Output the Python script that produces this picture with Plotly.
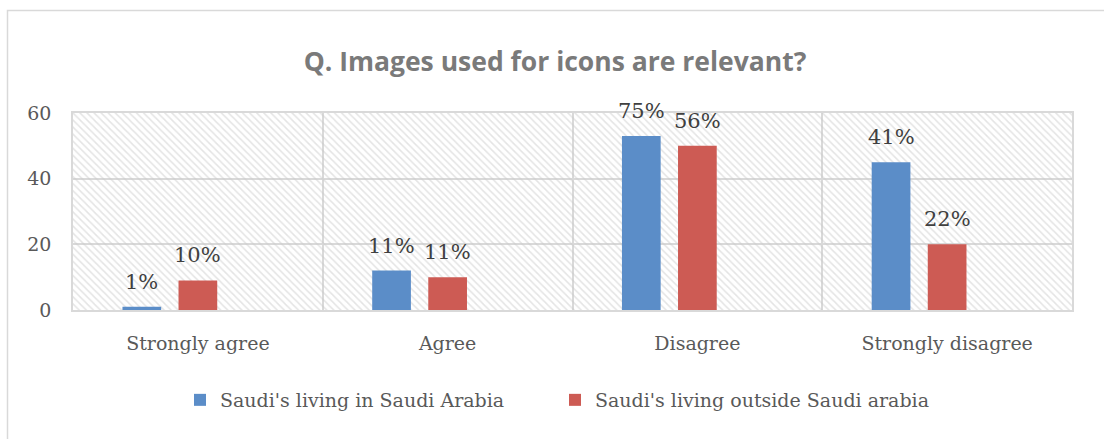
import plotly.graph_objects as go

# Survey responses
categories = ["Strongly agree", "Agree", "Disagree", "Strongly disagree"]
series_names = ["Saudi's living in Saudi Arabia", "Saudi's living outside Saudi arabia"]
inside_counts = [1, 12, 53, 45]
outside_counts = [9, 10, 50, 20]
inside_labels = ["1%", "11%", "75%", "41%"]
outside_labels = ["10%", "11%", "56%", "22%"]
y_ticks = [0, 20, 40, 60]

BLUE = "#5b8dc8"
RED = "#cd5b54"
GRID = "#d9d9d9"
TEXT = "#595959"
SERIF = "DejaVu Serif, Liberation Serif, serif"

x_pos = list(range(len(categories)))
x_range = [-0.5, len(categories) - 0.5]
y_range = [0, 60]

bar_w = 0.155
offsets = [-0.302, -0.0775]

fig = go.Figure()

# hatched plot background, drawn as one wide bar beneath the data bars
fig.add_trace(go.Bar(
    x=[sum(x_range) / 2], y=[y_range[1]], width=[x_range[1] - x_range[0]],
    marker=dict(color="rgba(0,0,0,0)", line=dict(width=0),
                pattern=dict(shape="\\", fgcolor="#c9c9c9", bgcolor="rgba(0,0,0,0)",
                             size=5, solidity=0.3)),
    hoverinfo="skip", showlegend=False,
))

for name, vals, labels, color, off in [
    (series_names[0], inside_counts, inside_labels, BLUE, offsets[0]),
    (series_names[1], outside_counts, outside_labels, RED, offsets[1]),
]:
    fig.add_trace(go.Bar(
        x=x_pos, y=vals, name=name, marker=dict(color=color, line=dict(width=0)),
        width=bar_w, offset=off,
    ))
    for xi, v, t in zip(x_pos, vals, labels):
        fig.add_annotation(
            x=xi + off + bar_w / 2, y=v, text=t, showarrow=False,
            yanchor="bottom", yshift=11,
            font=dict(family=SERIF, size=21, color="#404040"),
        )

# outer chart frame
fig.add_shape(type="rect", xref="paper", yref="paper",
              x0=(7.5 - 73) / 999, x1=(1110 - 73) / 999,
              y0=(310 - 445) / 197, y1=(310 - 10.5) / 197,
              line=dict(color=GRID, width=1.5), layer="below")

fig.update_layout(
    width=1104, height=439,
    margin=dict(l=73, r=32, t=113, b=129),
    paper_bgcolor="white", plot_bgcolor="white",
    barmode="overlay",
    title=dict(text="<b>Q. Images used for icons are relevant?</b>",
               x=555 / 1104, xanchor="center", y=1 - 62 / 439, yanchor="middle",
               font=dict(family="Open Sans, Lato, sans-serif", size=26.5, color="#7a7a7a")),
    legend=dict(orientation="h", x=(555 - 73) / 999, xanchor="center",
                y=(310 - 400) / 197, yanchor="middle",
                font=dict(family=SERIF, size=19, color=TEXT),
                itemwidth=30, traceorder="normal",
                entrywidth=330, entrywidthmode="pixels"),
    showlegend=True,
)

fig.update_xaxes(
    range=x_range, tickmode="array", tickvals=x_pos, ticktext=categories,
    showgrid=False, zeroline=False,
    showline=True, mirror=True, linecolor=GRID, linewidth=1.5,
    minor=dict(tickmode="array", tickvals=[0.5, 1.5, 2.5], showgrid=True,
               gridcolor=GRID, gridwidth=1.5, ticks=""),
    ticks="", ticklabelstandoff=15,
    tickfont=dict(family=SERIF, size=19, color=TEXT),
)
fig.update_yaxes(
    range=y_range, tickmode="array", tickvals=y_ticks,
    showgrid=True, gridcolor=GRID, gridwidth=1.5, zeroline=False,
    showline=True, mirror=True, linecolor=GRID, linewidth=1.5,
    ticks="", ticklabelstandoff=16,
    tickfont=dict(family=SERIF, size=19, color=TEXT),
)

fig.write_html("out.html")
